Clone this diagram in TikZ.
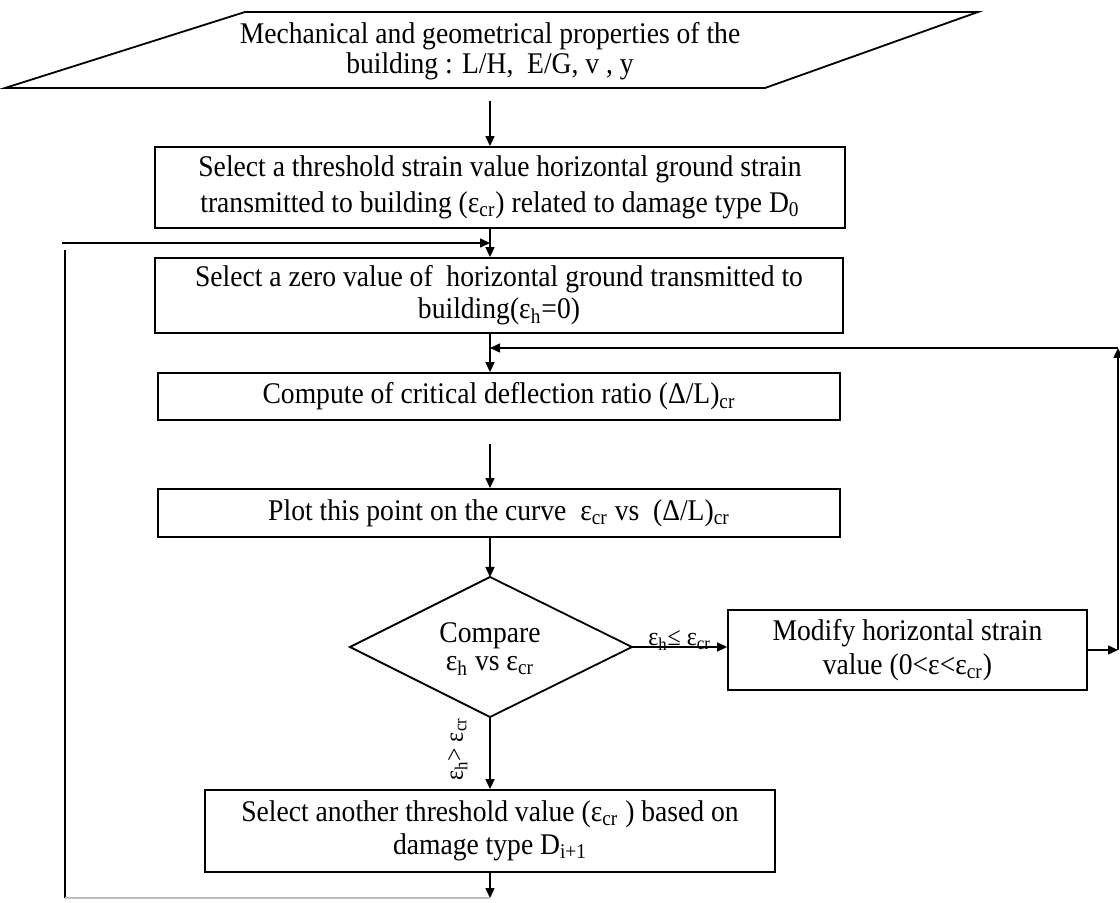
\documentclass[tikz,border=0pt]{standalone}
\usepackage{fontspec}
\setmainfont[FakeStretch=0.92]{Liberation Serif}
\usetikzlibrary{arrows.meta,calc}
\newcommand{\sbs}[1]{\textsubscript{#1}}
\newcommand{\fs}[1]{\fontsize{15}{#1}\selectfont}
\begin{document}
\begin{tikzpicture}[x=0.5pt,y=-0.5pt,
  txt/.style={align=center, inner sep=0pt, font=\fs{18pt}},
  box/.style={txt, draw, line width=0.9pt},
  arr/.style={line width=0.75pt, -{Triangle[length=5pt,width=4.5pt]}},
  plain/.style={line width=0.75pt},
  lbl/.style={inner sep=1pt, font=\fontsize{13}{14}\selectfont}]
\useasboundingbox (0,0) rectangle (1120,903);
\coordinate (spine) at (490,0);
% input parallelogram
\node[txt, font=\fs{15pt}, minimum height=38pt] (par) at (490,51) {Mechanical and geometrical properties of the\\building : L/H,\ \ E/G, v , y};
\draw[line width=0.9pt] (5,88) -- (245,12) -- (978,12) -- (765,88) -- cycle;
% boxes
\node[box, minimum width=345pt, minimum height=40.5pt] (b1) at (500,187.5) {Select a threshold strain value horizontal ground strain\\transmitted to building (ε\sbs{cr}) related to damage type D\sbs{0}};
\node[box, font=\fs{16pt}, minimum width=344pt, minimum height=37.5pt] (b2) at (499,295.5) {Select a zero value of\ \ horizontal ground transmitted to\\building(ε\sbs{h}=0)};
\node[box, minimum width=341pt, minimum height=23.5pt] (b3) at (499,396.5) {Compute of critical deflection ratio (Δ/L)\sbs{cr}};
\node[box, minimum width=341pt, minimum height=24pt] (b4) at (499,513) {Plot this point on the curve\ \ ε\sbs{cr} vs\ \ (Δ/L)\sbs{cr}};
% decision diamond
\coordinate (dT) at (490,577);
\coordinate (dL) at (350,647);
\coordinate (dR) at (632,647);
\coordinate (dB) at (490,717);
\draw[line width=0.9pt] (dT) -- (dR) -- (dB) -- (dL) -- cycle;
\node[txt, font=\fs{14pt}] (dia) at (490,649) {Compare\\ε\sbs{h} vs ε\sbs{cr}};
\node[box, font=\fs{17pt}, minimum width=179.5pt, minimum height=40pt] (mod) at (907.5,650) {Modify horizontal strain\\value (0<ε<ε\sbs{cr})};
\node[box, font=\fs{16.5pt}, minimum width=285pt, minimum height=41pt] (b6) at (490,831) {Select another threshold value (ε\sbs{cr} ) based on\\damage type D\sbs{i+1}};
% loop coordinates
\coordinate (lt) at (62,243);
\coordinate (lv) at (65,250);
\coordinate (lb) at (65,898);
\coordinate (rt) at (1118,348);
% main flow
\draw[arr, shorten <=6pt] (par.south -| spine) -- (b1.north -| spine);
\draw[arr] (b1.south -| spine) -- (b2.north -| spine);
\draw[arr] (b2.south -| spine) -- (b3.north -| spine);
\draw[arr, shorten <=11.5pt] (b3.south -| spine) -- (b4.north -| spine);
\draw[arr] (b4.south -| spine) -- (dT);
\draw[arr] (dR) -- node[lbl, above, pos=0.5, yshift=-3pt] {ε\sbs{h}≤ ε\sbs{cr}} (dR -| mod.west);
\draw[arr] (dB) -- node[lbl, rotate=90, anchor=south, pos=0.45, yshift=10pt] {ε\sbs{h}> ε\sbs{cr}} (b6.north -| dB);
\draw[arr] (b6.south -| spine) -- (lb -| spine);
% right loop
\draw[arr] (mod.east) -- (mod.east -| rt);
\draw[arr] (mod.east -| rt) -- (rt);
\draw[arr] (rt) -- (rt -| spine);
% left loop
\draw[arr] (lt) -- (lt -| spine);
\draw[plain] (lv) -- (lb);
\draw[plain, black!25] (lb) -- (lb -| spine);
\end{tikzpicture}
\end{document}
